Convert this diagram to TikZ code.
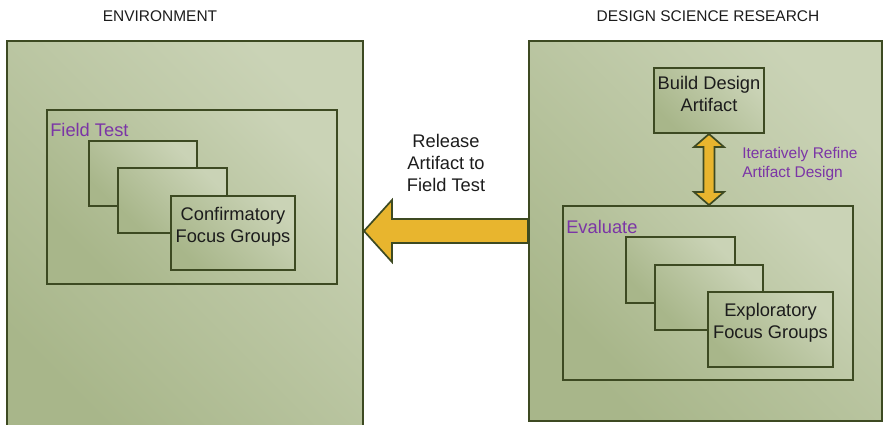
\documentclass[tikz,border=0pt]{standalone}
\usepackage{fontspec}
\setmainfont{Liberation Sans}
\usetikzlibrary{fit,calc}

\definecolor{oliveline}{HTML}{3D4A22}
\definecolor{olivelow}{HTML}{A8B68A}
\definecolor{olivehigh}{HTML}{CAD3B6}
\definecolor{goldfill}{HTML}{E8B52E}
\definecolor{tagpurple}{HTML}{7B35A6}
\definecolor{inkgrey}{HTML}{1C1C1C}

\begin{document}
\begin{tikzpicture}[x=0.025cm,y=-0.025cm,
    panel/.style={draw=oliveline, line width=1.4pt, inner sep=0pt,
      top color=olivehigh, bottom color=olivelow, shading angle=-45,
      align=center, text=inkgrey, font=\fontsize{13}{15.5}\selectfont},
    title/.style={text=inkgrey, font=\fontsize{11}{13}\selectfont},
    tag/.style={text=tagpurple, anchor=base west, inner sep=0pt,
      font=\fontsize{13}{15.5}\selectfont},
    note/.style={text=inkgrey, align=center, font=\fontsize{13}{15.5}\selectfont},
    goldarrow/.style={draw=oliveline, line width=1.2pt, fill=goldfill,
      line join=miter}]
  \useasboundingbox (0,0) rectangle (884,424);

  % environment side
  \node[title] (envtitle) at (160,16) {ENVIRONMENT};
  \node[panel, fit={(7,41) (363,440)}] (env) {};
  \node[panel, fit={(47,110) (337,284)}] (fieldtest) {};
  \node[tag] (fieldtag) at (50,136) {Field Test};
  \node[panel, fit={(89,141) (197,206)}] (cfgA) {};
  \node[panel, fit={(118,168) (227,233)}] (cfgB) {};
  \node[panel, fit={(171,196) (295,270)}] (cfgC) {Confirmatory\\Focus Groups};

  % design science research side
  \node[title] (dsrtitle) at (708,16) {DESIGN SCIENCE RESEARCH};
  \node[panel, fit={(529,41) (882,421)}] (dsr) {};
  \node[panel, fit={(654,68) (764,133)}] (build) {Build Design\\Artifact};
  \node[panel, fit={(563,206) (853,380)}] (evaluate) {};
  \node[tag] (evaltag) at (566,233) {Evaluate};
  \node[panel, fit={(626,237) (735,303)}] (efgA) {};
  \node[panel, fit={(655,265) (763,330)}] (efgB) {};
  \node[panel, fit={(708,292) (833,367)}] (efgC) {Exploratory\\Focus Groups};

  \node[note] (release) at (446,163) {Release\\Artifact to\\Field Test};
  \node[text=tagpurple, align=left, anchor=west, inner sep=0pt,
    font=\fontsize{11}{13}\selectfont] (refine) at (742,164)
    {Iteratively Refine\\Artifact Design};

  % block arrows
  \draw[goldarrow] (env.east |- dsr.west) -- ++(28,-31) -- ++(0,19)
    -- ($(dsr.west)+(0,-12)$) -- ($(dsr.west)+(0,12)$)
    -- ($(env.east |- dsr.west)+(28,12)$) -- ++(0,19) -- cycle;
  \draw[goldarrow] (build.south) -- ++(15,13) -- ++(-9.5,0)
    -- ($(build.south |- evaluate.north)+(5.5,-13)$) -- ++(9.5,0)
    -- (build.south |- evaluate.north) -- ++(-15,-13) -- ++(9.5,0)
    -- ($(build.south)+(-5.5,13)$) -- ++(-9.5,0) -- cycle;
\end{tikzpicture}
\end{document}
